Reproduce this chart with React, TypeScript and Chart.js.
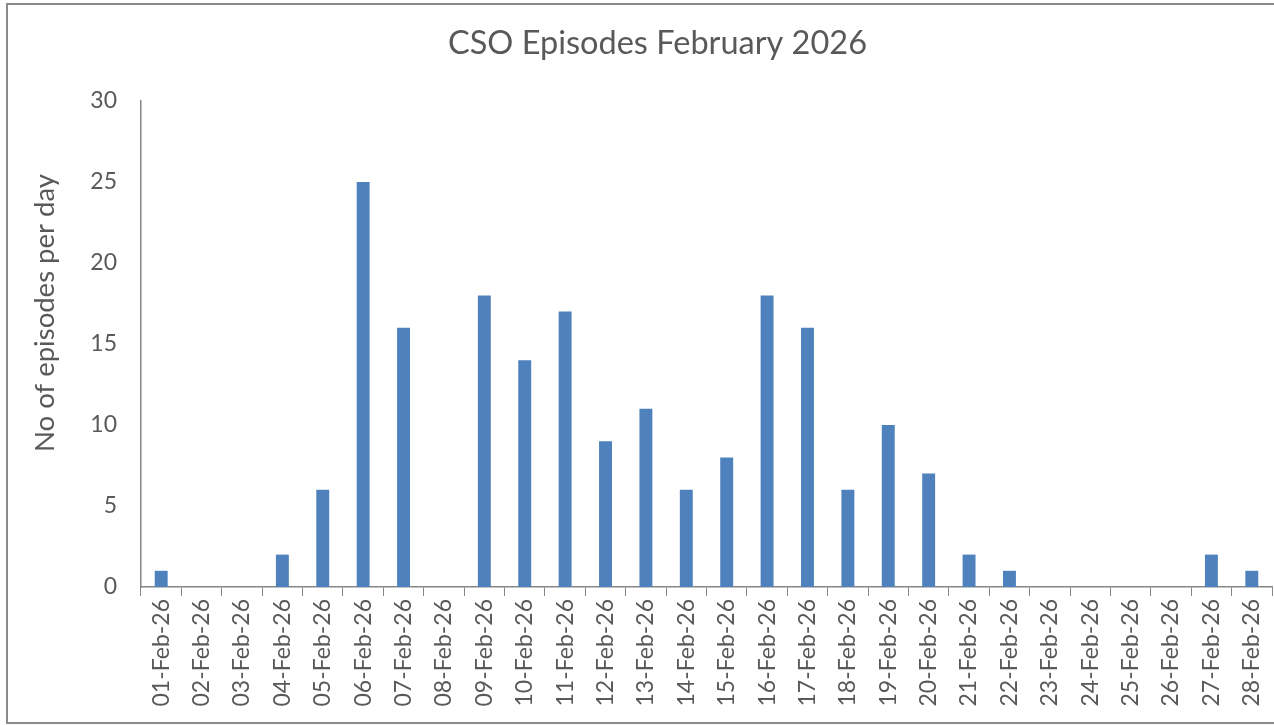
import React, { useEffect, useRef } from "react";
import { Chart, registerables } from "chart.js";

Chart.register(...registerables);

const categories = [
  "01-Feb-26", "02-Feb-26", "03-Feb-26", "04-Feb-26", "05-Feb-26", "06-Feb-26", "07-Feb-26",
  "08-Feb-26", "09-Feb-26", "10-Feb-26", "11-Feb-26", "12-Feb-26", "13-Feb-26", "14-Feb-26",
  "15-Feb-26", "16-Feb-26", "17-Feb-26", "18-Feb-26", "19-Feb-26", "20-Feb-26", "21-Feb-26",
  "22-Feb-26", "23-Feb-26", "24-Feb-26", "25-Feb-26", "26-Feb-26", "27-Feb-26", "28-Feb-26",
];
const episodes = [1, 0, 0, 2, 6, 25, 16, 0, 18, 14, 17, 9, 11, 6, 8, 18, 16, 6, 10, 7, 2, 1, 0, 0, 0, 0, 2, 1];
const chartTitle = "CSO Episodes February 2026";
const yAxisTitle = "No of episodes per day";

const TEXT = "#595959";
const AXIS = "#868686";
const FONT = "Lato, 'Open Sans', sans-serif";

const yTitlePlugin = {
  id: "yTitle",
  afterDraw(chart: any) {
    const ctx = chart.ctx;
    ctx.save();
    ctx.translate(45, 313);
    ctx.rotate(-Math.PI / 2);
    ctx.fillStyle = TEXT;
    ctx.font = `27.5px ${FONT}`;
    ctx.textAlign = "center";
    ctx.textBaseline = "middle";
    ctx.fillText(yAxisTitle, 0, 0);
    ctx.restore();
  },
};

export default function App() {
  const ref = useRef<HTMLCanvasElement | null>(null);
  useEffect(() => {
    if (!ref.current) return;
    const chart = new Chart(ref.current, {
      type: "bar",
      data: {
        labels: categories,
        datasets: [
          {
            data: episodes,
            backgroundColor: "#4F81BD",
            borderWidth: 0,
            categoryPercentage: 1,
            barPercentage: 0.32,
          },
        ],
      },
      plugins: [yTitlePlugin],
      options: {
        animation: false,
        responsive: false,
        maintainAspectRatio: false,
        layout: { padding: { left: 43, right: 2, top: 0, bottom: 0 } },
        plugins: {
          legend: { display: false },
          tooltip: { enabled: false },
          title: {
            display: true,
            text: chartTitle,
            color: TEXT,
            font: { family: FONT, size: 32.5, weight: "normal" },
            padding: { top: 24, bottom: 38 },
          },
        },
        scales: {
          x: {
            offset: true,
            grid: {
              display: true,
              drawOnChartArea: false,
              drawTicks: true,
              tickLength: 9,
              color: AXIS,
              offset: true,
            },
            border: { display: true, color: AXIS, width: 1.5 },
            ticks: {
              color: TEXT,
              font: { family: FONT, size: 23 },
              minRotation: 90,
              maxRotation: 90,
              autoSkip: false,
              padding: 3,
            },
            afterFit: (scale: any) => {
              scale.height = 725 - 587;
              scale.paddingLeft = 0;
              scale.paddingRight = 0;
            },
          },
          y: {
            min: 0,
            max: 30,
            grid: { display: false, drawTicks: false },
            border: { display: true, color: AXIS, width: 1.5 },
            ticks: {
              stepSize: 5,
              color: TEXT,
              font: { family: FONT, size: 23 },
              padding: 24,
            },
            afterFit: (scale: any) => {
              scale.width = 98;
              scale.paddingTop = 0;
              scale.paddingBottom = 0;
            },
          },
        },
      },
    });
    return () => chart.destroy();
  }, []);

  return (
    <div style={{ position: "fixed", left: 0, top: 0, width: 1274, height: 725, background: "#fff", overflow: "hidden" }}>
      <canvas ref={ref} width={1274} height={725} style={{ position: "absolute", left: 0, top: 0 }} />
      <div
        style={{
          position: "absolute",
          left: 6,
          top: 3,
          width: 1300,
          height: 717,
          border: "2px solid #8a8a8a",
          pointerEvents: "none",
        }}
      />
    </div>
  );
}
